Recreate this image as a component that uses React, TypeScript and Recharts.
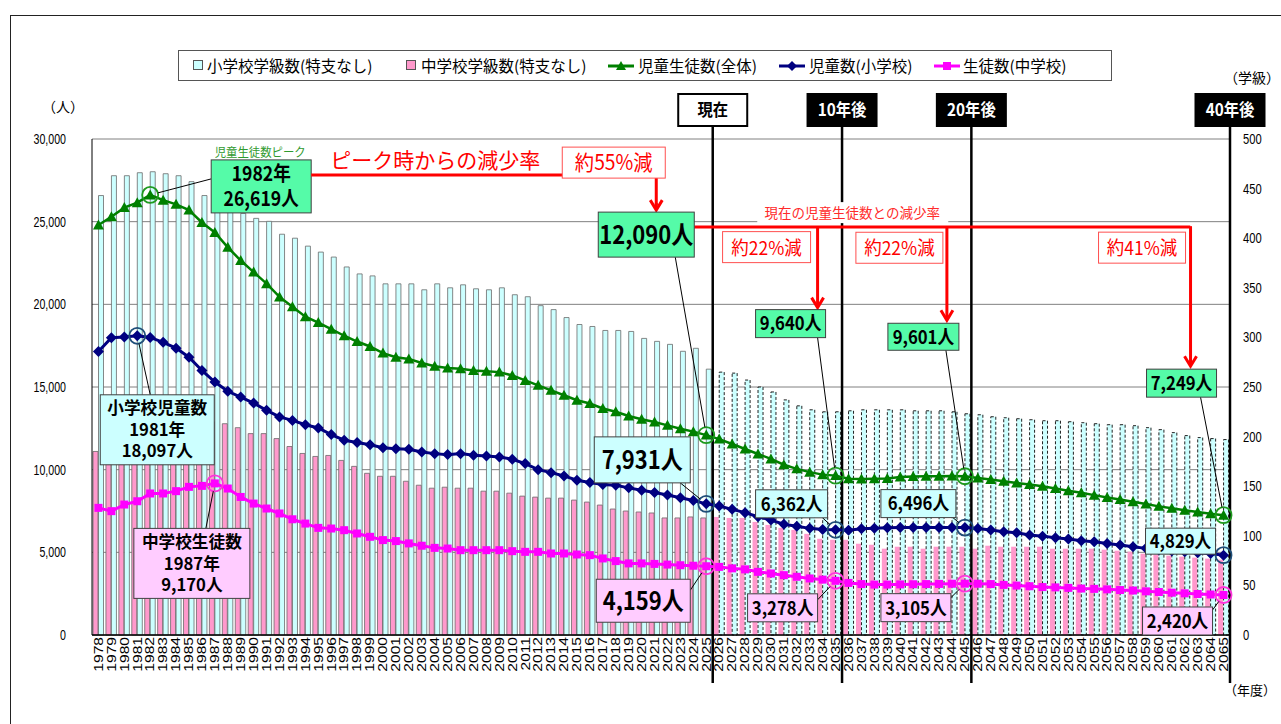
import React from "react";
import {
  ComposedChart,
  Bar,
  Line,
  XAxis,
  YAxis,
  CartesianGrid,
  ReferenceLine,
  ReferenceDot,
  Cell,
} from "recharts";

const years = [
  "1978", "1979", "1980", "1981", "1982", "1983", "1984", "1985", "1986", "1987",
  "1988", "1989", "1990", "1991", "1992", "1993", "1994", "1995", "1996", "1997",
  "1998", "1999", "2000", "2001", "2002", "2003", "2004", "2005", "2006", "2007",
  "2008", "2009", "2010", "2011", "2012", "2013", "2014", "2015", "2016", "2017",
  "2018", "2019", "2020", "2021", "2022", "2023", "2024", "2025", "2026", "2027",
  "2028", "2029", "2030", "2031", "2032", "2033", "2034", "2035", "2036", "2037",
  "2038", "2039", "2040", "2041", "2042", "2043", "2044", "2045", "2046", "2047",
  "2048", "2049", "2050", "2051", "2052", "2053", "2054", "2055", "2056", "2057",
  "2058", "2059", "2060", "2061", "2062", "2063", "2064", "2065",
];

// 児童生徒数(全体)
const totalStudents = [
  24800, 25300, 25850, 26150, 26619, 26300, 26050, 25700, 24950, 24350,
  23450, 22650, 21950, 21250, 20450, 19850, 19250, 18900, 18500, 18100,
  17750, 17450, 17050, 16800, 16700, 16450, 16250, 16150, 16100, 16000,
  15950, 15900, 15700, 15400, 15100, 14800, 14500, 14200, 14000, 13700,
  13500, 13250, 13050, 12880, 12680, 12480, 12300, 12090, 11850, 11550,
  11250, 10950, 10650, 10300, 10050, 9850, 9700, 9640, 9450, 9430,
  9450, 9460, 9550, 9580, 9600, 9600, 9610, 9601, 9500, 9400,
  9300, 9200, 9100, 9000, 8860, 8720, 8600, 8460, 8320, 8200,
  8060, 7920, 7780, 7660, 7540, 7440, 7340, 7249,
];

// 児童数(小学校)
const elementaryStudents = [
  17150, 17980, 18020, 18097, 18000, 17700, 17350, 16800, 16000, 15300,
  14740, 14390, 14030, 13590, 13190, 12980, 12720, 12520, 12120, 11780,
  11640, 11510, 11330, 11270, 11230, 11070, 10970, 10910, 10970, 10870,
  10830, 10770, 10630, 10370, 10000, 9820, 9620, 9360, 9220, 9100,
  9060, 8900, 8760, 8620, 8470, 8300, 8130, 7931, 7800, 7600,
  7400, 7150, 6950, 6700, 6580, 6450, 6380, 6362, 6340, 6420,
  6450, 6480, 6500, 6500, 6500, 6500, 6500, 6496, 6440, 6350,
  6250, 6180, 6050, 5980, 5880, 5800, 5700, 5640, 5540, 5440,
  5340, 5240, 5140, 5080, 5030, 4970, 4930, 4829,
];

// 生徒数(中学校)
const juniorStudents = [
  7690, 7490, 7890, 8090, 8560, 8560, 8700, 8960, 9020, 9170,
  8860, 8350, 7950, 7650, 7350, 7000, 6740, 6480, 6440, 6340,
  6140, 5940, 5740, 5680, 5540, 5400, 5270, 5230, 5130, 5130,
  5130, 5130, 5070, 5030, 5030, 4930, 4930, 4870, 4830, 4630,
  4470, 4330, 4330, 4300, 4260, 4220, 4190, 4159, 4120, 4030,
  3970, 3820, 3720, 3620, 3520, 3420, 3350, 3278, 3150, 3080,
  3050, 3050, 3060, 3070, 3080, 3090, 3100, 3105, 3100, 3080,
  3030, 2990, 2950, 2900, 2880, 2850, 2810, 2790, 2760, 2720,
  2690, 2640, 2600, 2560, 2520, 2480, 2450, 2420,
];

// 小学校学級数(特支なし)
const elementaryClasses = [
  443, 463, 463, 466, 467, 465, 463, 457, 443, 440,
  432, 425, 420, 417, 404, 400, 392, 386, 381, 371,
  364, 362, 354, 354, 354, 348, 354, 350, 353, 349,
  348, 350, 343, 341, 332, 328, 320, 313, 311, 307,
  307, 306, 299, 296, 293, 286, 289, 268, 265, 264,
  257, 250, 245, 237, 231, 227, 225, 225, 226, 227,
  227, 227, 227, 226, 226, 226, 225, 223, 222, 220,
  219, 218, 217, 216, 216, 215, 214, 213, 212, 212,
  211, 209, 207, 204, 201, 199, 198, 197,
];

// 中学校学級数(特支なし)
const juniorClasses = [
  185, 188, 192, 196, 200, 204, 208, 212, 214, 215,
  213, 209, 203, 203, 198, 190, 183, 180, 181, 176,
  170, 163, 160, 160, 155, 151, 148, 149, 148, 148,
  145, 145, 143, 140, 139, 138, 138, 136, 134, 131,
  127, 125, 124, 123, 118, 118, 119, 118, 119, 118,
  118, 114, 111, 108, 106, 102, 97, 96, 96, 92,
  91, 87, 89, 89, 87, 89, 89, 89, 87, 90,
  89, 89, 89, 89, 87, 87, 87, 87, 86, 85,
  84, 82, 81, 80, 79, 78, 77, 76,
];

const studentTicks = [0, 5000, 10000, 15000, 20000, 25000, 30000];
const classTicks = [0, 50, 100, 150, 200, 250, 300, 350, 400, 450, 500];

const currentYear = "2025";
const milestones = [
  { year: "2025", text: "現在", dark: false },
  { year: "2035", text: "10年後", dark: true },
  { year: "2045", text: "20年後", dark: true },
  { year: "2065", text: "40年後", dark: true },
];

const JP = "'Noto Sans CJK JP', 'Noto Sans', sans-serif";
const SANS = "'Liberation Sans', Arial, sans-serif";
const RED = "#ff0000";
const GREEN = "#008000";
const NAVY = "#000080";
const MAGENTA = "#ff00ff";
const CYAN_BAR = "#ccffff";
const PINK_BAR = "#ff99cc";

const currentIdx = years.indexOf(currentYear);
const rows = years.map((year, i) => ({
  year,
  total: totalStudents[i],
  elementary: elementaryStudents[i],
  junior: juniorStudents[i],
  elemClasses: elementaryClasses[i],
  juniorClasses: juniorClasses[i],
}));

const fmt = (v: number) => v.toLocaleString("en-US");

const XTick = (p: any) => (
  <text
    transform={`translate(${p.x + 4.3},${p.y}) rotate(-90) scale(1.3,1)`}
    textAnchor="end"
    fontSize={12}
    fontFamily={SANS}
    fill="#000"
  >
    {p.payload.value}
  </text>
);

const LeftTick = (p: any) => (
  <text transform={`translate(${p.x},${p.y + 5}) scale(0.76,1)`} textAnchor="end" fontSize={14} fontFamily={SANS} fill="#000">
    {fmt(p.payload.value)}
  </text>
);

const RightTick = (p: any) => (
  <text transform={`translate(${p.x},${p.y + 5}) scale(0.8,1)`} textAnchor="start" fontSize={14} fontFamily={SANS} fill="#000">
    {p.payload.value}
  </text>
);

const triangleDot = (p: any) => (
  <path
    key={`tri-${p.index}`}
    d={`M${p.cx},${p.cy - 5.5}L${p.cx + 5.5},${p.cy + 4.5}L${p.cx - 5.5},${p.cy + 4.5}Z`}
    fill={GREEN}
  />
);
const diamondDot = (p: any) => (
  <path
    key={`dia-${p.index}`}
    d={`M${p.cx},${p.cy - 5.5}L${p.cx + 5.5},${p.cy}L${p.cx},${p.cy + 5.5}L${p.cx - 5.5},${p.cy}Z`}
    fill={NAVY}
  />
);
const squareDot = (p: any) => (
  <rect key={`sq-${p.index}`} x={p.cx - 4} y={p.cy - 4} width={8} height={8} fill={MAGENTA} />
);

function CondText({ x, y, size, children, fill = "#000", weight = 700, sx = 0.88, anchor = "middle" }: any) {
  return (
    <text
      transform={`translate(${x},${y}) scale(${sx},1)`}
      textAnchor={anchor}
      fontSize={size}
      fontWeight={weight}
      fill={fill}
      fontFamily={JP}
    >
      {children}
    </text>
  );
}

const arrowDown = (x: number, y1: number, y2: number) => (
  <g>
    <line x1={x} y1={y1} x2={x} y2={y2 - 2} stroke={RED} strokeWidth={3} />
    <polyline points={`${x - 6},${y2 - 11} ${x},${y2 - 1} ${x + 6},${y2 - 11}`} fill="none" stroke={RED} strokeWidth={3} />
  </g>
);

const rateBox = (x: number, y: number, w: number, text: string, size = 19) => (
  <g>
    <rect x={x} y={y} width={w} height={31} fill="#fff" stroke="#ff5050" strokeWidth={1} />
    <CondText x={x + w / 2} y={y + 23} size={size} fill={RED} weight={400} sx={0.92}>
      {text}
    </CondText>
  </g>
);

type Callout = {
  year: string;
  lines: string[];
  box: number[];
  tip: number[];
  size: number;
  gap?: number;
  sx?: number;
  extra?: (cx: number, cy: number) => React.ReactNode;
};

const totalCallouts: Callout[] = [
  {
    year: "1982",
    lines: ["1982年", "26,619人"],
    box: [61, -35, 100, 53],
    tip: [61, -16],
    size: 20,
    gap: 25,
    extra: (cx, cy) => (
      <CondText x={cx + 110} y={cy - 38} size={12} fill="#2f9a2f" weight={400} sx={0.95}>
        児童生徒数ピーク
      </CondText>
    ),
  },
  {
    year: "2025",
    lines: ["12,090人"],
    box: [-108, -223, 96, 45],
    tip: [-31, -178],
    size: 25,
    extra: (cx, cy) => (
      <g>
        <polyline
          points={`${cx - 395},${cy - 260} ${cx - 50},${cy - 260} ${cx - 50},${cy - 230}`}
          fill="none"
          stroke={RED}
          strokeWidth={3}
        />
        {arrowDown(cx - 50, cy - 232, cy - 224)}
        <CondText x={cx - 376} y={cy - 267} size={21} fill={RED} weight={400} sx={1} anchor="start">
          ピーク時からの減少率
        </CondText>
        {rateBox(cx - 144, cy - 288, 103, "約55%減", 21)}
        <line x1={cx - 12} y1={cy - 208} x2={cx + 484} y2={cy - 208} stroke={RED} strokeWidth={3} />
        <rect x={cx + 51} y={cy - 233} width={191} height={21} fill="#fff" />
        <CondText x={cx + 146} y={cy - 217} size={13.5} fill="#ff2a2a" weight={400} sx={1}>
          現在の児童生徒数との減少率
        </CondText>
      </g>
    ),
  },
  {
    year: "2035",
    lines: ["9,640人"],
    box: [-80, -166, 70, 28],
    tip: [-18, -138],
    size: 19,
    extra: (cx, cy) => (
      <g>
        {arrowDown(cx - 18, cy - 249, cy - 167)}
        {rateBox(cx - 113, cy - 244, 88, "約22%減")}
      </g>
    ),
  },
  {
    year: "2045",
    lines: ["9,601人"],
    box: [-77, -153, 71, 27],
    tip: [-19, -126],
    size: 19,
    extra: (cx, cy) => (
      <g>
        {arrowDown(cx - 18, cy - 249, cy - 155)}
        {rateBox(cx - 109, cy - 244, 87, "約22%減")}
      </g>
    ),
  },
  {
    year: "2065",
    lines: ["7,249人"],
    box: [-77, -146, 70, 28],
    tip: [-23, -118],
    size: 19,
    extra: (cx, cy) => (
      <g>
        {arrowDown(cx - 33, cy - 289, cy - 148)}
        {rateBox(cx - 125, cy - 283, 87, "約41%減")}
      </g>
    ),
  },
];

const elementaryCallouts: Callout[] = [
  { year: "1981", lines: ["小学校児童数", "1981年", "18,097人"], box: [-37, 59, 114, 70], tip: [13, 59], size: 17, gap: 21.5, sx: 0.98 },
  { year: "2025", lines: ["7,931人"], box: [-112, -67, 96, 46], tip: [-26, -21], size: 25 },
  { year: "2035", lines: ["6,362人"], box: [-80, -40, 72, 28], tip: [-13, -12], size: 19 },
  { year: "2045", lines: ["6,496人"], box: [-84, -38, 75, 28], tip: [-12, -10], size: 19 },
  { year: "2065", lines: ["4,829人"], box: [-78, -27, 70, 26], tip: [-13, -2], size: 19 },
];

const juniorCallouts: Callout[] = [
  { year: "1987", lines: ["中学校生徒数", "1987年", "9,170人"], box: [-81, 45, 116, 70], tip: [-9, 45], size: 17, gap: 21.5, sx: 0.98 },
  { year: "2025", lines: ["4,159人"], box: [-110, 13, 94, 43], tip: [-16, 24], size: 25 },
  { year: "2035", lines: ["3,278人"], box: [-88, 13, 70, 28], tip: [-18, 19], size: 19 },
  { year: "2045", lines: ["3,105人"], box: [-84, 10, 70, 28], tip: [-14, 14], size: 19 },
  { year: "2065", lines: ["2,420人"], box: [-81, 12, 70, 28], tip: [-11, 15], size: 19 },
];

const calloutLabel = (c: Callout, fill: string) => (props: any) => {
  const vb = props.viewBox || {};
  const cx = vb.x + (vb.width || 0) / 2;
  const cy = vb.y + (vb.height || 0) / 2;
  const [bx, by, bw, bh] = c.box;
  const [tx, ty] = c.tip;
  const d = Math.hypot(tx, ty) || 1;
  const gap = c.gap || 0;
  const n = c.lines.length;
  const mid = cy + by + bh / 2;
  return (
    <g>
      {c.extra ? c.extra(cx, cy) : null}
      <line x1={cx + (tx / d) * 8} y1={cy + (ty / d) * 8} x2={cx + tx} y2={cy + ty} stroke="#000" strokeWidth={1} />
      <rect x={cx + bx} y={cy + by} width={bw} height={bh} fill={fill} stroke="#404040" strokeWidth={1} />
      {c.lines.map((t, i) => (
        <CondText key={i} x={cx + bx + bw / 2} y={mid + (i - (n - 1) / 2) * gap + c.size * 0.36} size={c.size} sx={c.sx || 0.88}>
          {t}
        </CondText>
      ))}
    </g>
  );
};

const milestoneTag = (text: string, dark: boolean) => (props: any) => {
  const vb = props.viewBox || {};
  const x = vb.x;
  const top = vb.y;
  return (
    <g>
      <rect x={x - 34.5} y={top - 45} width={69} height={32} fill={dark ? "#000" : "#fff"} stroke="#000" strokeWidth={2} />
      <CondText x={x} y={top - 23} size={17} fill={dark ? "#fff" : "#000"} sx={0.9}>
        {text}
      </CondText>
    </g>
  );
};

const milestoneLine = (p: any) => (
  <line
    x1={p.x1}
    y1={Math.min(p.y1, p.y2) - 13}
    x2={p.x2}
    y2={Math.max(p.y1, p.y2) + 48}
    stroke="#000"
    strokeWidth={2.5}
  />
);

function LegendBox() {
  const text = (left: number, label: string) => (
    <span style={{ position: "absolute", left, top: 4, fontSize: 15.5, lineHeight: "20px", whiteSpace: "nowrap" }}>{label}</span>
  );
  const lineSwatch = (left: number, color: string, marker: React.ReactNode) => (
    <svg style={{ position: "absolute", left, top: 8 }} width={26} height={14}>
      <line x1={0} y1={7} x2={26} y2={7} stroke={color} strokeWidth={3} />
      {marker}
    </svg>
  );
  return (
    <div
      style={{
        position: "absolute",
        left: 178,
        top: 50,
        width: 934,
        height: 31,
        border: "1px solid #555",
        boxSizing: "border-box",
        background: "#fff",
        fontFamily: JP,
        color: "#000",
      }}
    >
      <div style={{ position: "absolute", left: 14, top: 9, width: 10, height: 10, background: CYAN_BAR, border: "1px solid #555", boxSizing: "border-box" }} />
      {text(28, "小学校学級数(特支なし)")}
      <div style={{ position: "absolute", left: 227, top: 9, width: 10, height: 10, background: PINK_BAR, border: "1px solid #555", boxSizing: "border-box" }} />
      {text(242, "中学校学級数(特支なし)")}
      {lineSwatch(429, GREEN, <path d="M13,2L18,11L8,11Z" fill={GREEN} />)}
      {text(459, "児童生徒数(全体)")}
      {lineSwatch(600, NAVY, <path d="M13,2L18,7L13,12L8,7Z" fill={NAVY} />)}
      {text(630, "児童数(小学校)")}
      {lineSwatch(755, MAGENTA, <rect x={9} y={3} width={8} height={8} fill={MAGENTA} />)}
      {text(784, "生徒数(中学校)")}
    </div>
  );
}

export default function App() {
  return (
    <div style={{ position: "absolute", left: 0, top: 0, width: 1281, height: 724, overflow: "hidden", background: "#fff", fontFamily: JP }}>
      <div style={{ position: "absolute", left: 10, top: 15, width: 1400, height: 900, borderTop: "1px solid #222", borderLeft: "1px solid #222" }} />
      <LegendBox />
      <div style={{ position: "absolute", left: 42, top: 96, fontSize: 14 }}>（人）</div>
      <div style={{ position: "absolute", left: 1224, top: 67, fontSize: 14 }}>（学級）</div>
      <div style={{ position: "absolute", left: 1224, top: 680, fontSize: 13 }}>（年度）</div>
      <div style={{ position: "absolute", left: 0, top: 0 }}>
        <ComposedChart width={1281} height={724} data={rows} margin={{ top: 139, right: 1, bottom: 29, left: 0 }} barGap={0.5}>
          <CartesianGrid vertical={false} stroke="#808080" strokeWidth={1} />
          <XAxis
            dataKey="year"
            interval={0}
            tick={XTick}
            tickLine={false}
            tickSize={0}
            tickMargin={2}
            height={60}
            axisLine={{ stroke: "#000", strokeWidth: 1.5 }}
          />
          <YAxis
            domain={[0, 30000]}
            ticks={studentTicks}
            width={92}
            tick={LeftTick}
            tickLine={false}
            tickSize={0}
            tickMargin={26}
            axisLine={{ stroke: "#000" }}
            allowDataOverflow
          />
          <YAxis
            yAxisId="right"
            orientation="right"
            domain={[0, 500]}
            ticks={classTicks}
            width={50}
            tick={RightTick}
            tickLine={false}
            tickSize={0}
            tickMargin={13}
            axisLine={{ stroke: "#000" }}
          />
          <Bar dataKey="juniorClasses" yAxisId="right" barSize={5} isAnimationActive={false}>
            {rows.map((r, i) => (
              <Cell
                key={r.year}
                fill={PINK_BAR}
                stroke={i > currentIdx ? "none" : "#6a6a6a"}
                strokeWidth={0.8}
              />
            ))}
          </Bar>
          <Bar dataKey="elemClasses" yAxisId="right" barSize={5} isAnimationActive={false}>
            {rows.map((r, i) => (
              <Cell
                key={r.year}
                fill={CYAN_BAR}
                stroke={i > currentIdx ? "#222" : "#6a6a6a"}
                strokeWidth={i > currentIdx ? 1 : 0.8}
                strokeDasharray={i > currentIdx ? "3 2" : undefined}
              />
            ))}
          </Bar>
          {milestones.map((m) => (
            <ReferenceLine
              key={m.year}
              x={m.year}
              position="end"
              stroke="#000"
              strokeWidth={2.5}
              shape={milestoneLine}
              label={milestoneTag(m.text, m.dark)}
            />
          ))}
          <Line dataKey="total" stroke={GREEN} strokeWidth={2.5} dot={triangleDot} activeDot={false} isAnimationActive={false} />
          <Line dataKey="elementary" stroke={NAVY} strokeWidth={3} dot={diamondDot} activeDot={false} isAnimationActive={false} />
          <Line dataKey="junior" stroke={MAGENTA} strokeWidth={3} dot={squareDot} activeDot={false} isAnimationActive={false} />
          {totalCallouts.map((c) => (
            <ReferenceDot
              key={`t-${c.year}`}
              x={c.year}
              y={totalStudents[years.indexOf(c.year)]}
              r={8}
              fill="none"
              stroke="#1f9a1f"
              strokeWidth={1.8}
              label={calloutLabel(c, "#55fba8")}
            />
          ))}
          {elementaryCallouts.map((c) => (
            <ReferenceDot
              key={`e-${c.year}`}
              x={c.year}
              y={elementaryStudents[years.indexOf(c.year)]}
              r={8}
              fill="none"
              stroke="#1f4e79"
              strokeWidth={1.8}
              label={calloutLabel(c, "#ccffff")}
            />
          ))}
          {juniorCallouts.map((c) => (
            <ReferenceDot
              key={`j-${c.year}`}
              x={c.year}
              y={juniorStudents[years.indexOf(c.year)]}
              r={8}
              fill="none"
              stroke="#ff33dd"
              strokeWidth={1.8}
              label={calloutLabel(c, "#ffccff")}
            />
          ))}
        </ComposedChart>
      </div>
    </div>
  );
}
